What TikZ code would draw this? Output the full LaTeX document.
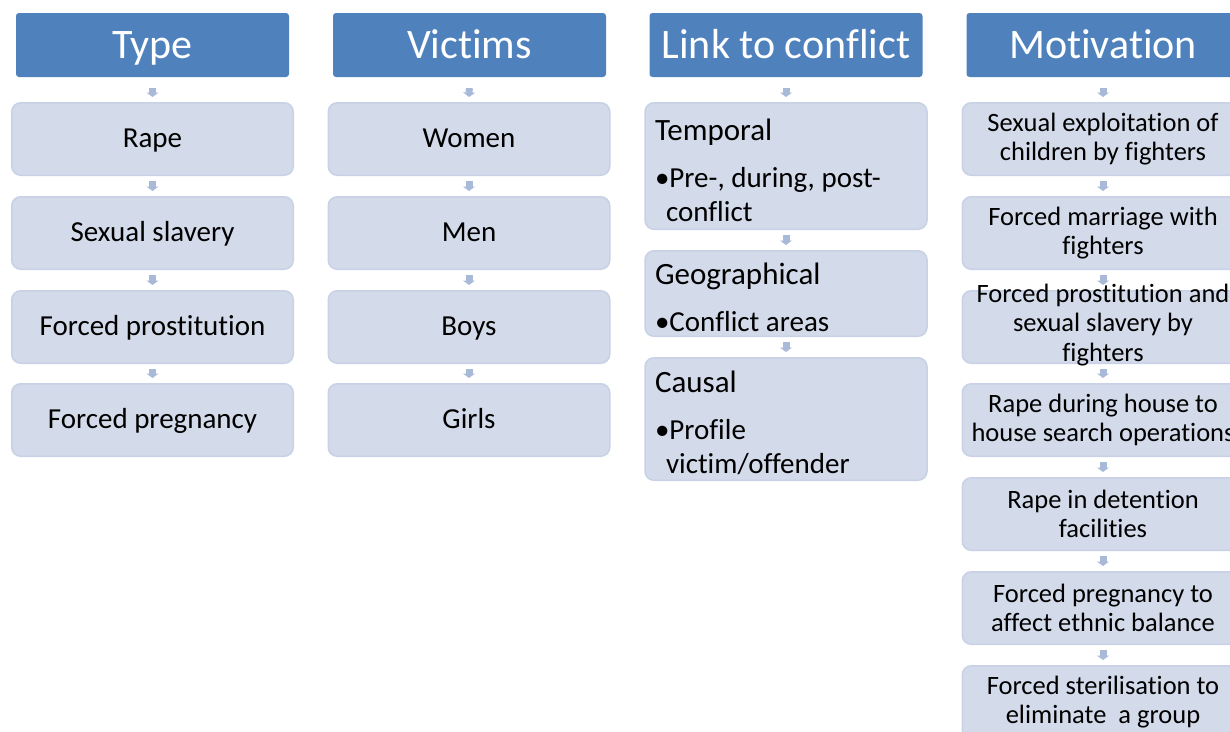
\documentclass[tikz,border=0pt]{standalone}
\usepackage{fontspec}
\setmainfont[Ligatures=NoCommon]{Carlito}
\usetikzlibrary{arrows.meta}

\definecolor{headblue}{HTML}{4F81BD}
\definecolor{boxfill}{HTML}{D3DAE9}
\definecolor{boxline}{HTML}{C8D1E5}
\definecolor{flowblue}{HTML}{A8BAD8}

\tikzset{
  headbox/.style={rectangle, rounded corners=3pt, fill=headblue, text=white,
    minimum width=273pt, minimum height=64pt, inner sep=0pt,
    font=\fontsize{42}{50}\selectfont, text height=27pt, text depth=1pt},
  itembox/.style={rectangle, rounded corners=9pt, fill=boxfill, draw=boxline,
    line width=1.5pt, minimum width=281.5pt, minimum height=72.5pt, inner sep=0pt},
  onebox/.style={itembox, font=\fontsize{29}{35}\selectfont, text height=19pt, text depth=2pt},
  twobox/.style={itembox, align=center, font=\fontsize{26.5}{29.5}\selectfont},
  subbox/.style={itembox, align=flush left, text width=262pt, inner xsep=10pt,
    font=\fontsize{29}{34}\selectfont},
  flow/.style={draw=flowblue, line width=7pt, -{Triangle[width=12pt,length=4.5pt]},
    shorten <=5pt, shorten >=5pt},
  topflow/.style={flow, shorten <=11pt}
}
\newcommand{\subtitle}[1]{{\fontsize{31}{34}\selectfont\rule{0pt}{30pt}#1}\\[13pt]}

\begin{document}
\begin{tikzpicture}[x=1pt,y=-1pt]
  \useasboundingbox (0,0) rectangle (1230,731);
  \clip (0,0) rectangle (1230,731);

  % Type
  \node[headbox] (type) at (152.5,45) {Type};
  \node[onebox] (type1) at (152.5,139) {Rape};
  \node[onebox] (type2) at (152.5,233) {Sexual slavery};
  \node[onebox] (type3) at (152.5,327) {Forced prostitution};
  \node[onebox] (type4) at (152.5,420) {Forced pregnancy};

  % Victims
  \node[headbox] (vict) at (469.5,45) {Victims};
  \node[onebox] (vict1) at (469,139) {Women};
  \node[onebox] (vict2) at (469,233) {Men};
  \node[onebox] (vict3) at (469,327) {Boys};
  \node[onebox] (vict4) at (469,420) {Girls};

  % Link to conflict
  \node[headbox] (link) at (786,45) {Link to conflict};
  \node[subbox, minimum height=126.5pt] (link1) at (786,166)
    {\subtitle{Temporal}•Pre-, during, post-\\\hspace*{11pt}conflict};
  \node[subbox, minimum height=85.5pt] (link2) at (786,293.5)
    {\subtitle{Geographical}•Conflict areas};
  \node[subbox, minimum height=122.5pt] (link3) at (786,419)
    {\subtitle{Causal}•Profile\\\hspace*{11pt}victim/offender};

  % Motivation
  \node[headbox] (moti) at (1103,45) {Motivation};
  \node[twobox] (moti1) at (1103,139) {Sexual exploitation of\\children by fighters};
  \node[twobox] (moti2) at (1103,233) {Forced marriage with\\fighters};
  \node[twobox, text height=68pt, text depth=0pt] (moti3) at (1103,327)
    {Forced prostitution and\\sexual slavery by\\fighters};
  \node[twobox] (moti4) at (1103,420) {Rape during house to\\house search operations};
  \node[twobox] (moti5) at (1103,514) {Rape in detention\\facilities};
  \node[twobox] (moti6) at (1103,608) {Forced pregnancy to\\affect ethnic balance};
  \node[twobox] (moti7) at (1103,702) {Forced sterilisation to\\eliminate\ \ a group};

  % arrows
  \draw[topflow] (type.south) -- (type1.north);
  \draw[topflow] (vict.south) -- (vict1.north);
  \draw[topflow] (link.south) -- (link1.north);
  \draw[topflow] (moti.south) -- (moti1.north);
  \foreach \a/\b in {1/2,2/3,3/4} {
    \draw[flow] (type\a.south) -- (type\b.north);
    \draw[flow] (vict\a.south) -- (vict\b.north);
  }
  \draw[flow] (link1.south) -- (link2.north);
  \draw[flow] (link2.south) -- (link3.north);
  \foreach \a/\b in {1/2,2/3,3/4,4/5,5/6,6/7}
    \draw[flow] (moti\a.south) -- (moti\b.north);
\end{tikzpicture}
\end{document}
